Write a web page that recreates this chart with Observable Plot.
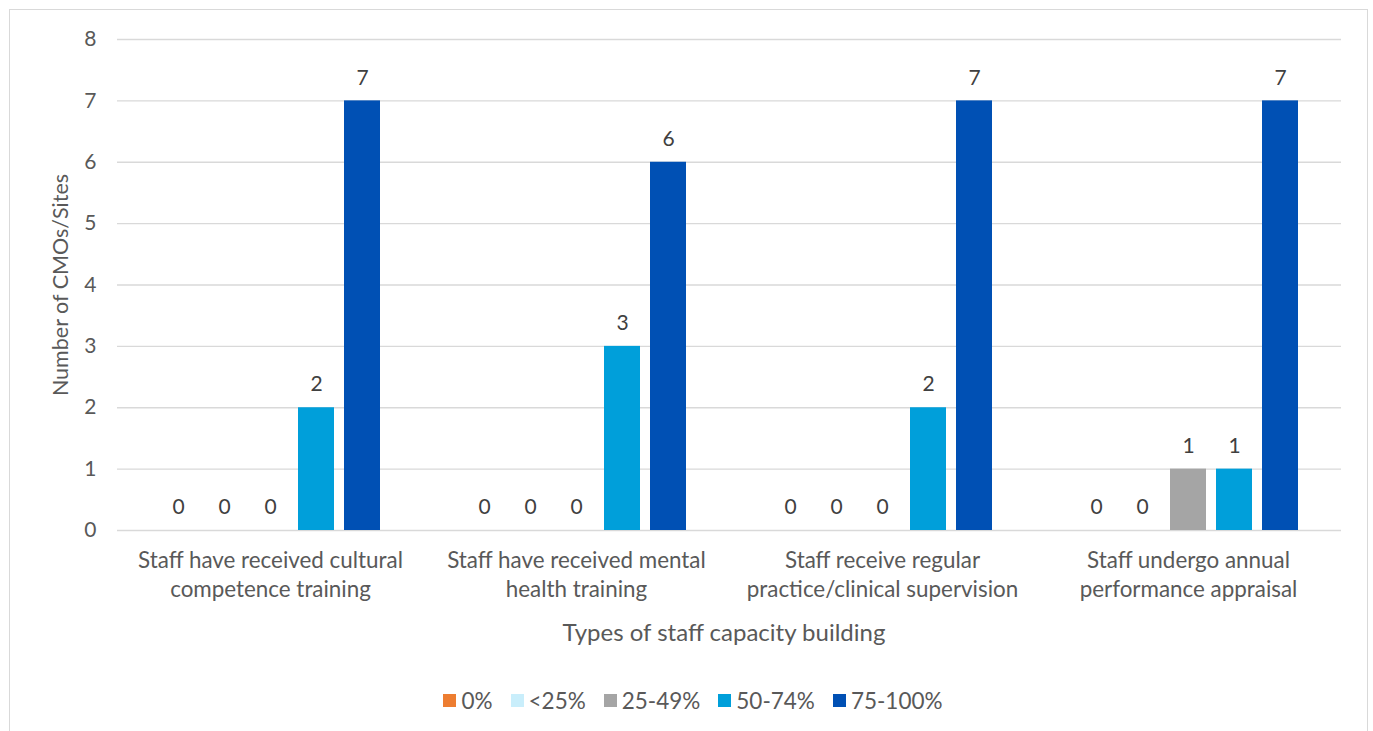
<!DOCTYPE html>
<html>
<head>
<meta charset="utf-8">
<script src="https://cdn.jsdelivr.net/npm/d3@7"></script>
<script src="https://cdn.jsdelivr.net/npm/@observablehq/plot@0.6"></script>
<style>
  body { margin: 0; background: #fff; font-family: "Lato", "Open Sans", sans-serif; color: #595959; }
  #wrap { position: relative; width: 1373px; height: 731px; overflow: hidden; }
  #frame { position: absolute; left: 9px; top: 9px; width: 1359px; height: 760px; border: 1px solid #d9d9d9; box-sizing: border-box; }
  #chart { position: absolute; left: 0; top: 0; }
  #ytitle { position: absolute; left: 60px; top: 285px; transform: translate(-50%, -50%) rotate(-90deg); white-space: nowrap; font-size: 21.5px; }
  #xtitle { position: absolute; left: 724px; top: 631px; transform: translate(-50%, -50%); white-space: nowrap; font-size: 24px; }
  #legend { position: absolute; left: 17px; width: 1352px; top: 687px; display: flex; justify-content: center; gap: 18px; font-size: 22.5px; }
  #legend .item { display: flex; align-items: center; gap: 5px; }
  #legend .sw { width: 13px; height: 13px; display: inline-block; }
</style>
</head>
<body>
<div id="wrap">
  <div id="frame"></div>
  <div id="chart"></div>
  <div id="ytitle">Number of CMOs/Sites</div>
  <div id="xtitle">Types of staff capacity building</div>
  <div id="legend"></div>
</div>
<script>
// Capacity-building categories, in display order
const categories = [
  "Staff have received cultural competence training",
  "Staff have received mental health training",
  "Staff receive regular practice/clinical supervision",
  "Staff undergo annual performance appraisal"
];
const categoryLines = [
  "Staff have received cultural\ncompetence training",
  "Staff have received mental\nhealth training",
  "Staff receive regular\npractice/clinical supervision",
  "Staff undergo annual\nperformance appraisal"
];

// Share-of-staff bands (series)
const bands = ["0%", "<25%", "25-49%", "50-74%", "75-100%"];
const bandColors = ["#ed7d31", "#c9eefb", "#a5a5a5", "#009fda", "#0050b4"];

// Number of CMOs/sites per band, one value per category
const share0 = [0, 0, 0, 0];
const shareUnder25 = [0, 0, 0, 0];
const share25to49 = [0, 0, 0, 1];
const share50to74 = [2, 3, 2, 1];
const share75to100 = [7, 6, 7, 7];

const yTicks = [0, 1, 2, 3, 4, 5, 6, 7, 8];

const series = [share0, shareUnder25, share25to49, share50to74, share75to100];
const rows = [];
categories.forEach((c, i) => {
  bands.forEach((b, j) => rows.push({ category: c, band: b, value: series[j][i] }));
});

const plot = Plot.plot({
  width: 1373,
  height: 660,
  marginLeft: 117,
  marginRight: 32,
  marginTop: 39,
  marginBottom: 130,
  style: { fontFamily: "Lato, 'Open Sans', sans-serif", fontSize: "21px", color: "#595959", background: "transparent" },
  fx: { domain: categories, padding: 0, label: null },
  x: { domain: bands, paddingInner: 0.2128, paddingOuter: 0.862, axis: null },
  y: { domain: [0, 8], label: null },
  color: { domain: bands, range: bandColors },
  marks: [
    Plot.gridY(yTicks, { stroke: "#d9d9d9", strokeOpacity: 1, strokeWidth: 1.3 }),
    Plot.barY(rows, { fx: "category", x: "band", y: "value", fill: "band" }),
    Plot.text(rows, {
      fx: "category", x: "band", y: "value",
      text: d => String(d.value), dy: -23, fill: "#404040", fontSize: 21
    }),
    Plot.axisY(yTicks, { tickSize: 0, tickPadding: 21, fontSize: 21, tickFormat: d3.format("d"), label: null }),
    Plot.axisFx({
      anchor: "bottom", tickSize: 0, tickPadding: 17, fontSize: 22.4, lineHeight: 1.3,
      tickFormat: d => categoryLines[categories.indexOf(d)], label: null
    })
  ]
});
document.getElementById("chart").appendChild(plot);

// Legend
const legend = document.getElementById("legend");
bands.forEach((b, i) => {
  const item = document.createElement("span");
  item.className = "item";
  const sw = document.createElement("span");
  sw.className = "sw";
  sw.style.background = bandColors[i];
  const t = document.createElement("span");
  t.textContent = b;
  item.append(sw, t);
  legend.append(item);
});
</script>
</body>
</html>
